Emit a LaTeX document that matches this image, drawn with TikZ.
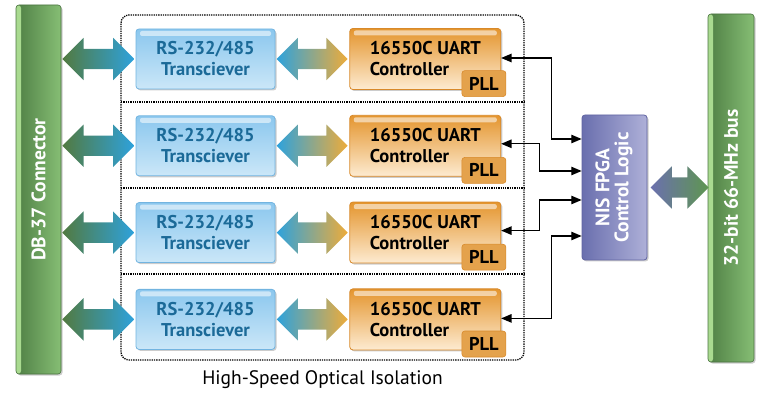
\documentclass[tikz,border=0pt]{standalone}
\usepackage{graphicx}
\usepackage{fontspec}
\setmainfont{PT Sans}
\usetikzlibrary{positioning}
\usetikzlibrary{arrows}
\usetikzlibrary{shapes.arrows}
\usetikzlibrary{shadows}

\definecolor{barDark}{HTML}{4F7F45}
\definecolor{barLight}{HTML}{86BE74}
\definecolor{barStripe}{HTML}{A9DA90}
\definecolor{barEdge}{HTML}{4A7340}
\definecolor{trxTop}{HTML}{8BC7EE}
\definecolor{trxBot}{HTML}{CBE7F8}
\definecolor{trxEdge}{HTML}{72B4E0}
\definecolor{trxText}{HTML}{1B6A98}
\definecolor{uartTop}{HTML}{E4952E}
\definecolor{uartBot}{HTML}{FDEBD1}
\definecolor{uartEdge}{HTML}{D8892A}
\definecolor{pllFill}{HTML}{E4A24C}
\definecolor{fpgaLeft}{HTML}{6A6FAE}
\definecolor{fpgaRight}{HTML}{AEB0D8}
\definecolor{fpgaEdge}{HTML}{6064A2}
\definecolor{arrGreen}{HTML}{527A40}
\definecolor{arrBlue}{HTML}{2EA2DC}
\definecolor{arrOrange}{HTML}{EEAC3A}
\definecolor{arrPale}{HTML}{B8BFB2}
\definecolor{arrTeal}{HTML}{4A8C86}
\definecolor{arrPurple}{HTML}{6B70AE}
\definecolor{arrGreenB}{HTML}{5E9650}

\tikzset{
  boxfont/.style={font=\bfseries\fontsize{18.5}{21}\selectfont},
  gloss/.style={path picture={
      \fill[white, opacity=.55, rounded corners=2pt]
        ([xshift=4pt, yshift=-2pt]path picture bounding box.north west)
        rectangle ([xshift=-4pt, yshift=-7pt]path picture bounding box.north east);}},
  softshadow/.style={drop shadow={shadow xshift=1.5pt, shadow yshift=-1.5pt, fill=black, opacity=.2}},
  bar/.style={draw=barEdge, line width=.6pt, rounded corners=3pt, left color=barDark, right color=barLight,
    text=white, font=\bfseries\fontsize{19.5}{22}\selectfont, inner sep=0pt, softshadow,
    path picture={\fill[barStripe] (path picture bounding box.north west)
      rectangle ([xshift=5pt]path picture bounding box.south west);}},
  trxbox/.style={draw=trxEdge, line width=.8pt, rounded corners=3pt, top color=trxTop, bottom color=trxBot,
    text=trxText, boxfont, align=center, minimum width=139pt, minimum height=60pt, inner sep=0pt,
    softshadow, gloss},
  uartbox/.style={draw=uartEdge, line width=.8pt, rounded corners=3pt, top color=uartTop, bottom color=uartBot,
    boxfont, align=left, minimum width=151pt, minimum height=61pt, inner sep=0pt, softshadow, gloss},
  pllbox/.style={draw=uartEdge, line width=.6pt, rounded corners=3pt, fill=pllFill, boxfont,
    minimum width=44pt, minimum height=26pt, inner sep=0pt, anchor=south east},
  fpgabox/.style={draw=fpgaEdge, line width=.8pt, rounded corners=3pt, left color=fpgaLeft, right color=fpgaRight,
    text=white, font=\bfseries\fontsize{19.5}{22}\selectfont, minimum width=65pt, minimum height=145pt,
    inner sep=0pt, softshadow},
  dblarrow/.style={double arrow, draw=none, inner xsep=0pt, inner ysep=10pt,
    double arrow head extend=11pt, double arrow head indent=0pt},
  link/.style={<->, >={triangle 45}, line width=1.4pt}
}

\begin{document}
\begin{tikzpicture}[x=1pt, y=1pt]
  \useasboundingbox (0,0) rectangle (760,399);

  % Isolation frame
  \node[draw, densely dotted, line width=1.3pt, rounded corners=8pt, minimum width=403pt, minimum height=345pt,
    inner sep=0pt] (iso) at (322.5,211.5) {};
  \draw[densely dotted, line width=1.3pt] (121,297) -- (524,297);
  \draw[densely dotted, line width=1.3pt] (121,211) -- (524,211);
  \draw[densely dotted, line width=1.3pt] (121,125) -- (524,125);
  \node[below=6pt of iso, font=\fontsize{19.5}{22}\selectfont] (caption) {High-Speed Optical Isolation};

  % Define nodes
  \node[bar, minimum width=45pt, minimum height=369pt] (db) at (38.5,209.5) {\rotatebox{90}{DB-37 Connector}};
  \node[bar, minimum width=46pt, minimum height=348pt] (bus) at (731,211) {\rotatebox{90}{32-bit 66-MHz bus}};

  \node[trxbox] (trx1) at (205.5,340) {RS-232/485\\Transciever};
  \node[trxbox, below=26pt of trx1] (trx2) {RS-232/485\\Transciever};
  \node[trxbox, below=26pt of trx2] (trx3) {RS-232/485\\Transciever};
  \node[trxbox, below=26pt of trx3] (trx4) {RS-232/485\\Transciever};

  \node[uartbox, right=74pt of trx1] (uart1) {16550C UART\\Controller};
  \node[uartbox, right=74pt of trx2] (uart2) {16550C UART\\Controller};
  \node[uartbox, right=74pt of trx3] (uart3) {16550C UART\\Controller};
  \node[uartbox, right=74pt of trx4] (uart4) {16550C UART\\Controller};

  \node[pllbox] (pll1) at ([xshift=5pt, yshift=-7pt]uart1.south east) {PLL};
  \node[pllbox] (pll2) at ([xshift=5pt, yshift=-7pt]uart2.south east) {PLL};
  \node[pllbox] (pll3) at ([xshift=5pt, yshift=-7pt]uart3.south east) {PLL};
  \node[pllbox] (pll4) at ([xshift=5pt, yshift=-7pt]uart4.south east) {PLL};

  \node[fpgabox] (fpga) at (614.5,211.5)
    {\rotatebox{90}{\begin{tabular}{@{}c@{}}NIS FPGA\\[-3pt]Control Logic\end{tabular}}};

  % Wide arrows
  \node[dblarrow, left=1pt of trx1, minimum height=72pt, left color=arrGreen, middle color=arrTeal, right color=arrBlue] (in1) {};
  \node[dblarrow, left=1pt of trx2, minimum height=72pt, left color=arrGreen, middle color=arrTeal, right color=arrBlue] (in2) {};
  \node[dblarrow, left=1pt of trx3, minimum height=72pt, left color=arrGreen, middle color=arrTeal, right color=arrBlue] (in3) {};
  \node[dblarrow, left=1pt of trx4, minimum height=72pt, left color=arrGreen, middle color=arrTeal, right color=arrBlue] (in4) {};
  \node[dblarrow, right=1pt of trx1, minimum height=71pt, left color=arrBlue, middle color=arrPale, right color=arrOrange] (opt1) {};
  \node[dblarrow, right=1pt of trx2, minimum height=71pt, left color=arrBlue, middle color=arrPale, right color=arrOrange] (opt2) {};
  \node[dblarrow, right=1pt of trx3, minimum height=71pt, left color=arrBlue, middle color=arrPale, right color=arrOrange] (opt3) {};
  \node[dblarrow, right=1pt of trx4, minimum height=71pt, left color=arrBlue, middle color=arrPale, right color=arrOrange] (opt4) {};
  \node[dblarrow, right=3pt of fpga, minimum height=58pt, left color=arrPurple, right color=arrGreenB] (busarrow) {};

  % FPGA ports
  \coordinate (p1) at ([yshift=48.5pt]fpga.west);
  \coordinate (p2) at ([yshift=16.5pt]fpga.west);
  \coordinate (p3) at ([yshift=-12.5pt]fpga.west);
  \coordinate (p4) at ([yshift=-48.5pt]fpga.west);

  % Connect the nodes
  \draw[link] ([yshift=1pt]uart1.east) -| ([xshift=-30pt]p1) -- (p1);
  \draw[link] ([yshift=2pt]uart2.east) -| ([xshift=-42pt]p2) -- (p2);
  \draw[link] ([yshift=2pt]uart3.east) -| ([xshift=-42pt]p3) -- (p3);
  \draw[link] ([yshift=1pt]uart4.east) -| ([xshift=-30pt]p4) -- (p4);

\end{tikzpicture}
\end{document}
